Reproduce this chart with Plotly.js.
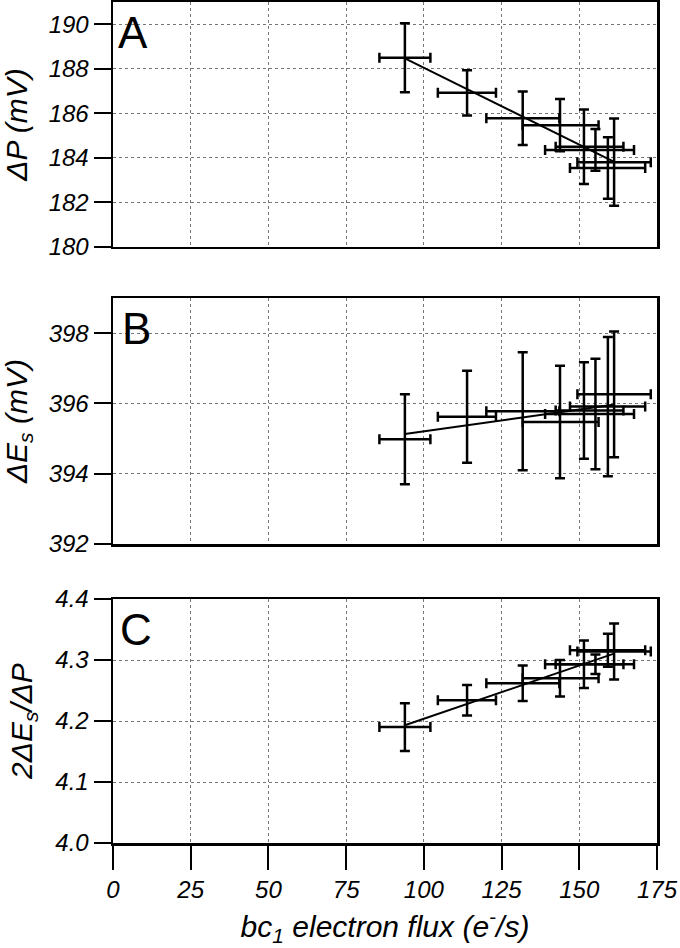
<!DOCTYPE html>
<html>
<head>
<meta charset="utf-8">
<script src="https://cdn.plot.ly/plotly-3.0.1.min.js"></script>
<style>html,body{margin:0;padding:0;background:#fff;}#chart{width:680px;height:948px;}</style>
</head>
<body>
<div id="chart"></div>
<script>
// bc1 electron flux (e-/s) and its error (asymmetric as read)
const flux = [93.9, 113.9, 131.8, 143.8, 151.5, 155.2, 159.2, 161.2];
const fluxErrMinus = [8.2, 9.4, 11.7, 12.0, 9.1, 16.2, 12.2, 11.8];
const fluxErrPlus = [8.2, 9.3, 11.8, 12.4, 12.7, 12.4, 12.0, 11.8];

// Panel A: ΔP (mV)
const dP = [188.50, 186.92, 185.78, 185.47, 184.50, 184.36, 183.55, 183.81];
const dPErr = [1.55, 1.02, 1.20, 1.17, 1.67, 0.94, 1.38, 1.96];
// Panel B: ΔEs (mV)
const dEs = [394.98, 395.62, 395.78, 395.47, 395.80, 395.70, 395.91, 396.26];
const dEsErr = [1.28, 1.31, 1.68, 1.60, 1.37, 1.57, 1.98, 1.79];
// Panel C: 2ΔEs/ΔP
const ratio = [4.190, 4.234, 4.262, 4.270, 4.293, 4.293, 4.316, 4.314];
const ratioErr = [0.039, 0.025, 0.029, 0.030, 0.039, 0.016, 0.027, 0.046];

// Fitted lines (endpoints as read)
const fitX = [93.9, 160.9];
const fitA = [188.47, 183.84];
const fitB = [395.13, 395.96];
const fitC = [4.193, 4.310];

const xTicks = [0, 25, 50, 75, 100, 125, 150, 175];
const yTicksA = [180, 182, 184, 186, 188, 190];
const yTicksB = [392, 394, 396, 398];
const yTicksC = [4.0, 4.1, 4.2, 4.3, 4.4];

const FONT = '"Liberation Sans", Arial, sans-serif';

function errTrace(y, yerr, xa, ya) {
  return {
    type: 'scatter', mode: 'markers', x: flux, y: y, xaxis: xa, yaxis: ya,
    marker: {size: 2, color: 'rgba(0,0,0,0)'},
    error_y: {type: 'data', array: yerr, visible: true, color: '#000', thickness: 2.5, width: 5},
    error_x: {type: 'data', symmetric: false, array: fluxErrPlus, arrayminus: fluxErrMinus, visible: true, color: '#000', thickness: 2.5, width: 5},
    showlegend: false, hoverinfo: 'skip'
  };
}
function fitTrace(y, xa, ya) {
  return {type: 'scatter', mode: 'lines', x: fitX, y: y, xaxis: xa, yaxis: ya,
    line: {color: '#000', width: 2}, showlegend: false, hoverinfo: 'skip'};
}

const data = [
  fitTrace(fitA, 'x', 'y'), errTrace(dP, dPErr, 'x', 'y'),
  fitTrace(fitB, 'x2', 'y2'), errTrace(dEs, dEsErr, 'x2', 'y2'),
  fitTrace(fitC, 'x3', 'y3'), errTrace(ratio, ratioErr, 'x3', 'y3')
];

const tickFont = {family: FONT, size: 24, color: '#000', style: 'italic'};
const titleFont = {family: FONT, size: 30, color: '#000', style: 'italic'};

function xAxis(anchor, showLabels) {
  const ax = {
    anchor: anchor, range: [0, 175], tickvals: xTicks,
    showline: true, mirror: true, linecolor: '#000', linewidth: 2.5,
    showgrid: true, gridcolor: '#777', griddash: 'dot', gridwidth: 1,
    ticks: showLabels ? 'outside' : '', ticklen: 24, tickwidth: 2, tickcolor: '#000',
    showticklabels: showLabels, tickfont: tickFont, zeroline: false
  };
  if (showLabels) {
    ax.ticktext = xTicks.map(String);
    ax.title = {text: 'bc<sub>1</sub> electron flux (e<sup>-</sup>/s)', font: titleFont, standoff: 14};
  }
  return ax;
}
function yAxis(anchor, domain, range, ticks, fmt, title) {
  return {
    anchor: anchor, domain: domain, range: range, tickvals: ticks,
    ticktext: ticks.map(v => fmt ? v.toFixed(1) : String(v)),
    showline: true, mirror: true, linecolor: '#000', linewidth: 2.5,
    showgrid: true, gridcolor: '#777', griddash: 'dot', gridwidth: 1,
    ticks: 'outside', ticklen: 17, tickwidth: 2, tickcolor: '#000',
    tickfont: tickFont, zeroline: false,
    title: {text: title, font: titleFont, standoff: 14}
  };
}

const layout = {
  width: 680, height: 948,
  margin: {l: 113, r: 23, t: 2, b: 105},
  paper_bgcolor: '#fff', plot_bgcolor: '#fff',
  font: {family: FONT, color: '#000'},
  xaxis: xAxis('y', false),
  yaxis: yAxis('x', [0.7087, 1], [180, 191], yTicksA, false, 'ΔP (mV)'),
  xaxis2: xAxis('y2', false),
  yaxis2: yAxis('x2', [0.3555, 0.6480], [392, 399], yTicksB, false, 'ΔE<sub>s</sub> (mV)'),
  xaxis3: xAxis('y3', true),
  yaxis3: yAxis('x3', [0, 0.2901], [4.0, 4.4], yTicksC, true, '2ΔE<sub>s</sub>/ΔP'),
  annotations: [
    {text: 'A', xref: 'x domain', yref: 'y domain', x: 0.005, y: 1, xanchor: 'left', yanchor: 'top', showarrow: false, yshift: -4, font: {family: FONT, size: 44, color: '#000'}},
    {text: 'B', xref: 'x2 domain', yref: 'y2 domain', x: 0.012, y: 1, xanchor: 'left', yanchor: 'top', showarrow: false, yshift: -4, font: {family: FONT, size: 44, color: '#000'}},
    {text: 'C', xref: 'x3 domain', yref: 'y3 domain', x: 0.01, y: 1, xanchor: 'left', yanchor: 'top', showarrow: false, yshift: -4, font: {family: FONT, size: 44, color: '#000'}}
  ]
};

Plotly.newPlot('chart', data, layout, {displayModeBar: false, staticPlot: true});
</script>
</body>
</html>
